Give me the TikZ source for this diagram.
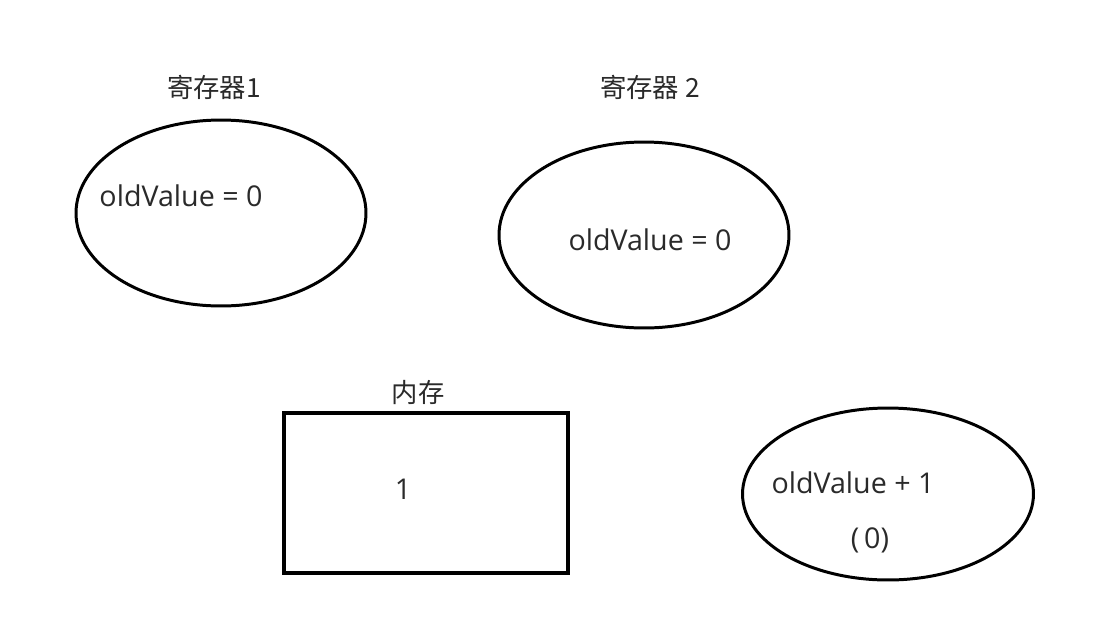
\documentclass[tikz,border=0pt]{standalone}
\usepackage{fontspec}
\setmainfont{Noto Sans CJK SC}
\newfontfamily\latinfont{Open Sans}
\usetikzlibrary{shapes.geometric}
\definecolor{txt}{HTML}{2A2A2A}
\begin{document}
\begin{tikzpicture}[x=0.02cm,y=-0.02cm,
  shape1/.style={draw=black,line width=1.7pt,ellipse,inner sep=0pt},
  box/.style={draw=black,line width=2pt,inner sep=0pt},
  lbl/.style={text=txt,font=\latinfont\fontsize{16.3}{19}\selectfont,inner sep=0pt,anchor=center},
  cjk/.style={text=txt,font=\fontsize{15}{18}\selectfont,inner sep=0pt,anchor=center}]
\useasboundingbox (0,0) rectangle (1110,633);
\fill[white] (0,0) rectangle (1110,633);
% register 1
\node[cjk] (t1) at (214,87) {寄存器1};
\node[shape1,minimum width=5.8cm,minimum height=3.72cm] (r1) at (221,213) {};
\node[lbl] (v1) at (181,196) {oldValue = 0};
% register 2
\node[cjk] (t2) at (650,87) {寄存器 2};
\node[shape1,minimum width=5.8cm,minimum height=3.72cm] (r2) at (644,235) {};
\node[lbl] (v2) at (650,240) {oldValue = 0};
% memory
\node[cjk] (t3) at (418,393) {内存};
\node[box,minimum width=5.68cm,minimum height=3.2cm] (mem) at (426,493) {};
\node[lbl] (m1) at (403,489) {1};
% calc
\node[shape1,minimum width=5.82cm,minimum height=3.44cm] (c) at (888,494) {};
\node[lbl] (cv) at (853,483) {oldValue + 1};
\node[lbl] (c0) at (870,540) {(\,0)};
\end{tikzpicture}
\end{document}
